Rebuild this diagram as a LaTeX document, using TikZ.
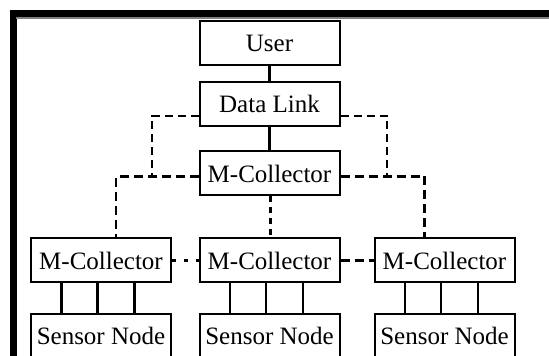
\documentclass[tikz,border=0pt]{standalone}
\usepackage{fontspec}
\setmainfont{Liberation Serif}
\usepackage{xcolor}

\tikzset{box/.style={draw,line width=1pt,minimum width=70pt,minimum height=22pt,inner sep=0pt,font=\fontsize{12.5}{15}\selectfont}}
\tikzset{thindash/.style={line width=1pt,dash pattern=on 4pt off 2.5pt}}
\tikzset{thickdash/.style={line width=1.4pt,dash pattern=on 4.5pt off 2.5pt}}

\begin{document}
\begin{tikzpicture}[x=0.5pt,y=-0.5pt]

\useasboundingbox (0,0) rectangle (549,356);
\clip (0,0) rectangle (549,356);

\draw[line width=3.5pt] (13.5,420) -- (13.5,14) -- (600,14);
\draw[gray,line width=0.7pt] (16,18) -- (600,18);

\node(user) at (269.5,43)[box] {User};
\node(link) at (269.5,104)[box] {Data Link};
\node(mc) at (269.5,173.5)[box] {M-Collector};

\node(mcl) at (101,260.5)[box] {M-Collector};
\node(mcm) at (269.5,260.5)[box] {M-Collector};
\node(mcr) at (444.5,260.5)[box] {M-Collector};

\node(snl) at (101,336)[box] {Sensor Node};
\node(snm) at (269.5,336)[box] {Sensor Node};
\node(snr) at (444.5,336)[box] {Sensor Node};

\draw[line width=1.1pt] (user) -- (link);
\draw[line width=1.1pt] (link) -- (mc);

\coordinate(jl) at (152,177);
\coordinate(jr) at (387,177);
\draw[thindash] ([yshift=-6pt]link.west) -| (jl);
\draw[thindash] ([yshift=-6pt]link.east) -| (jr);

\draw[thickdash] ([yshift=-1.5pt]mc.west) -| ([xshift=7.5pt]mcl.north);
\draw[thickdash] ([yshift=-1.5pt]mc.east) -| ([xshift=-10pt]mcr.north);
\draw[line width=1.1pt,dash pattern=on 3pt off 2.5pt] ([xshift=0.5pt]mc.south) -- ([xshift=0.5pt]mcm.north);

\draw[line width=1.4pt,dash pattern=on 2pt off 4pt] (mcl) -- (mcm);
\draw[thickdash] (mcm) -- (mcr);

\foreach \i in {l,m,r}
  \foreach \dx in {-19.75,-1.75,16.75}
    \draw[line width=1.1pt] ([xshift=\dx pt]mc\i.south) -- ([xshift=\dx pt]sn\i.north);

\end{tikzpicture}
\end{document}
